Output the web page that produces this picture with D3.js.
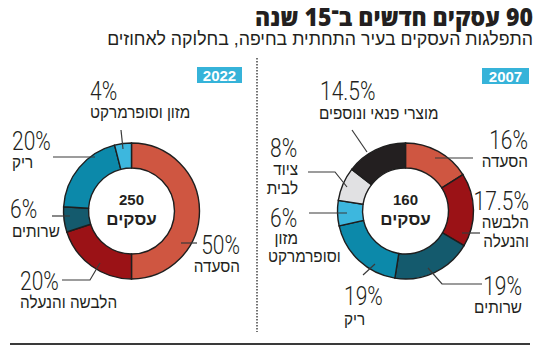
<!DOCTYPE html>
<html><head><meta charset="utf-8">
<script src="https://cdn.jsdelivr.net/npm/d3@7/dist/d3.min.js"></script>
<style>
html,body{margin:0;padding:0;background:#fff;}
svg{display:block;}
</style></head>
<body>
<svg id="c" width="550" height="349"></svg>
<script>
// ---- data ----
const titleText = "90 עסקים חדשים ב־15 שנה";
const subtitleText = "התפלגות העסקים בעיר התחתית בחיפה, בחלוקה לאחוזים";
const years = ["2022", "2007"];
const totals = [250, 160];
const totalUnit = "עסקים";
const cats2022 = ["הסעדה", "הלבשה והנעלה", "שרותים", "ריק", "מזון וסופרמרקט"];
const vals2022 = [50, 20, 6, 20, 4];
const cats2007 = ["הסעדה", "הלבשה והנעלה", "שרותים", "ריק", "מזון וסופרמרקט", "ציוד לבית", "מוצרי פנאי ונוספים"];
const vals2007 = [16, 17.5, 19, 19, 6, 8, 14.5];

const colorMap = {
  "הסעדה": "#cf5641",
  "הלבשה והנעלה": "#9b1216",
  "שרותים": "#145a6d",
  "ריק": "#0c89aa",
  "מזון וסופרמרקט": "#3db7de",
  "ציוד לבית": "#e1e1e3",
  "מוצרי פנאי ונוספים": "#231f20"
};

const svg = d3.select("#c");
const HEB = "'Liberation Sans', 'DejaVu Sans', sans-serif";
const NUM = "Roboto, 'Liberation Sans', sans-serif";

// condensed text helper; align: left|right|center
function txt(x, y, s, o) {
  o = o || {};
  const sx = o.sx || 1;
  const g = svg.append("g").attr("transform", `translate(${x},${y}) scale(${sx},1)`);
  const rtl = !!o.rtl;
  let anchor;
  if (o.align === "center") anchor = "middle";
  else if (o.align === "right") anchor = rtl ? "start" : "end";
  else anchor = rtl ? "end" : "start";
  return g.append("text")
    .attr("x", 0).attr("y", 0)
    .attr("direction", rtl ? "rtl" : "ltr")
    .attr("text-anchor", anchor)
    .attr("font-family", o.font || HEB)
    .attr("font-size", o.size || 16)
    .attr("font-weight", o.weight || 400)
    .attr("fill", o.fill || "#231f20")
    .text(s);
}

// title
txt(533, 25.5, titleText, {rtl: true, align: "right", size: 24, weight: 900, font: "'Open Sans', 'Liberation Sans', sans-serif", sx: 0.96});
txt(533, 45, subtitleText, {rtl: true, align: "right", size: 18, sx: 0.985});

// divider & baseline
svg.append("line").attr("x1", 257).attr("x2", 257).attr("y1", 58).attr("y2", 332)
  .attr("stroke", "#444").attr("stroke-width", 1.5).attr("stroke-dasharray", "1.5,1.5");
svg.append("line").attr("x1", 10).attr("x2", 530).attr("y1", 344).attr("y2", 344)
  .attr("stroke", "#3a3a3a").attr("stroke-width", 2);

const R = 68, r = 43;
const pie = d3.pie().sort(null).value(d => d.v);
const arc = d3.arc().outerRadius(R).innerRadius(r);

const charts = [
  {cats: cats2022, vals: vals2022, cx: 131.5, cy: 211, badge: [197, 67, 45, 16],
   labels: [
     {num: [240, 254, "right"], lines: [[240, 272, "right"]], lead: [[181,243],[197,243]]},
     {num: [20, 290, "left"], lines: [[20, 308, "left"]], lead: [[62,280],[90,280],[100,263]]},
     {num: [10, 218, "left"], lines: [[12, 237, "left"]], lead: [[52,216],[70,216]]},
     {num: [12, 150, "left"], lines: [[12, 168, "left"]], lead: [[53,157],[95,157]]},
     {num: [90, 100, "left"], lines: [[90, 118, "left"]], lead: [[121,130],[123,149]]}
   ]},
  {cats: cats2007, vals: vals2007, cx: 405.5, cy: 211, badge: [482, 68, 47, 16],
   labels: [
     {num: [528, 149, "right"], lines: [[528, 167, "right"]], lead: [[435,158],[473,158]]},
     {num: [529, 210, "right"], lines: [[529, 228, "right", 0], [529, 247, "right", 1]], lead: [[462,233],[480,233]]},
     {num: [522, 295, "right"], lines: [[522, 313, "right"]], lead: [[428,268],[442,284],[482,284]]},
     {num: [344, 305, "left"], lines: [[344, 325, "left"]], lead: [[363,275],[375,264]]},
     {num: [270, 227, "left"], lines: [[298, 244, "right", 0], [268, 262, "left", 1]], lead: [[309,213],[347,213]]},
     {num: [270, 157, "left"], lines: [[298, 175, "right", 0], [298, 194, "right", 1]], lead: [[308,172],[335,172],[347,187]]},
     {num: [320, 100, "left"], lines: [[319, 119, "left"]], lead: [[352,130],[367,152]]}
   ]}
];

charts.forEach((ch, ci) => {
  const data = ch.cats.map((c, i) => ({c, v: ch.vals[i]}));
  const g = svg.append("g").attr("transform", `translate(${ch.cx},${ch.cy})`);
  g.selectAll("path").data(pie(data)).enter().append("path")
    .attr("d", arc)
    .attr("fill", d => colorMap[d.data.c])
    .attr("stroke", "#1e1e1e").attr("stroke-width", 1.4).attr("stroke-linejoin", "miter");

  // center text
  txt(ch.cx, ch.cy - 6, String(totals[ci]), {align: "center", size: 15, weight: 700, font: "'Liberation Sans', sans-serif"});
  txt(ch.cx, ch.cy + 14, totalUnit, {rtl: true, align: "center", size: 17, weight: 700});

  // badge
  const [bx, by, bw, bh] = ch.badge;
  svg.append("rect").attr("x", bx).attr("y", by).attr("width", bw).attr("height", bh).attr("fill", "#36b3d9");
  txt(bx + bw / 2, by + bh - 2.5, years[ci], {align: "center", size: 15, weight: 700, fill: "#fff", font: "'Liberation Sans', sans-serif"});

  // labels + leaders
  ch.labels.forEach((L, i) => {
    svg.append("path").attr("d", d3.line()(L.lead)).attr("fill", "none")
      .attr("stroke", "#3a3a3a").attr("stroke-width", 1.2);
    const pct = d3.format("~g")(ch.vals[i]) + "%";
    txt(L.num[0], L.num[1], pct, {align: L.num[2], size: 25, weight: 300, font: NUM, sx: 0.84});
    const cat = ch.cats[i];
    let parts;
    if (L.lines.length === 1) parts = [cat];
    else {
      const w = cat.split(" ");
      parts = [w[0], w.slice(1).join(" ")];
    }
    L.lines.forEach((ln, k) => {
      txt(ln[0], ln[1], parts[k], {rtl: true, align: ln[2], size: 17, sx: 0.9});
    });
  });
});
</script>
</body></html>
